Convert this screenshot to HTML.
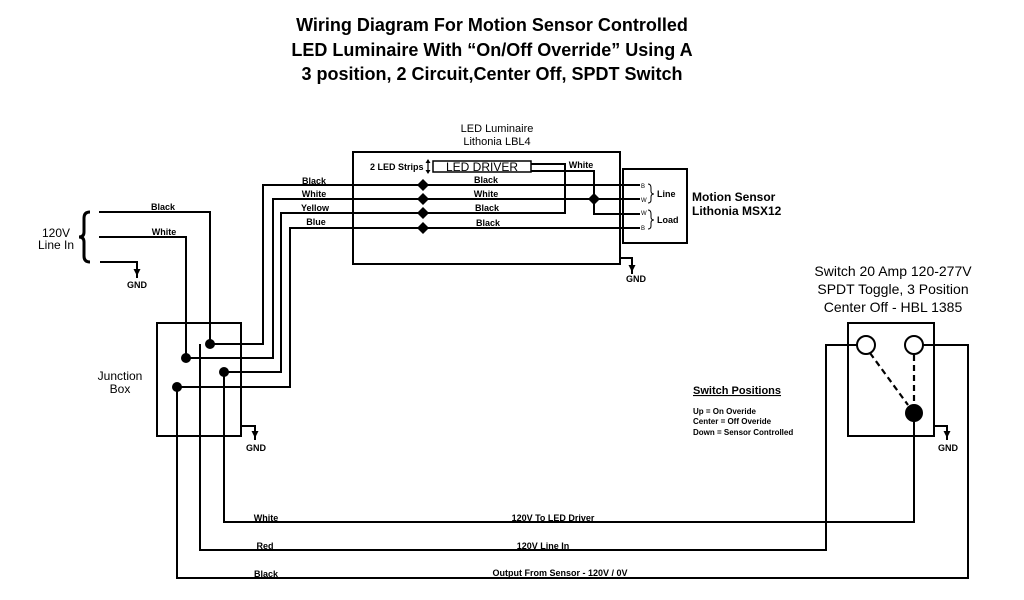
<!DOCTYPE html>
<html><head><meta charset="utf-8"><style>
html,body{margin:0;padding:0;background:#fff;}
svg{display:block;}
text{font-family:"Liberation Sans",Arial,sans-serif;fill:#000;}
.t{font-size:18px;font-weight:bold;}
.s{font-size:9px;font-weight:bold;}
.m{font-size:12px;}
</style></head><body>
<svg width="1024" height="600" viewBox="0 0 1024 600" xmlns="http://www.w3.org/2000/svg">
<defs>
<g id="gnd"><line x1="0" y1="0" x2="0" y2="5" stroke="#000" stroke-width="2"/><polygon points="-3.5,5 3.5,5 0,12" fill="#000"/><line x1="0" y1="9" x2="0" y2="14" stroke="#000" stroke-width="2"/></g>
</defs>
<text class="t" x="492" y="31" text-anchor="middle">Wiring Diagram For Motion Sensor Controlled</text>
<text class="t" x="492" y="56" text-anchor="middle">LED Luminaire With “On/Off Override” Using A</text>
<text class="t" x="492" y="80" text-anchor="middle">3 position, 2 Circuit,Center Off, SPDT Switch</text>

<g fill="none" stroke="#000" stroke-width="2">
<rect x="353" y="152" width="267" height="112"/>
<rect x="433" y="161" width="98" height="11" stroke-width="1.5"/>
<rect x="623" y="169" width="64" height="74"/>
<rect x="157" y="323" width="84" height="113"/>
<rect x="848" y="323" width="86" height="113"/>
<polyline points="99,212 210,212 210,344"/>
<polyline points="99,237 186,237 186,358"/>
<polyline points="100,262 137,262 137,266"/>
<polyline points="210,344 263,344 263,185 640,185"/>
<polyline points="186,358 273,358 273,199 640,199"/>
<polyline points="224,372 281,372 281,213 565,213 565,164 531,164"/>
<polyline points="177,387 290,387 290,228 640,228"/>
<polyline points="531,171 594,171 594,214 640,214"/>
<polyline points="620,258 632,258 632,262"/>
<polyline points="241,426 255,426 255,428"/>
<polyline points="934,426 947,426 947,428"/>
<polyline points="224,372 224,522 914,522 914,413"/>
<polyline points="200,344 200,550 826,550 826,345 857,345"/>
<polyline points="177,387 177,578 968,578 968,345 923,345"/>
<path d="M90,212 Q84,212 84,218 L84,232 Q84,237 79,237 Q84,237 84,242 L84,256 Q84,262 90,262" stroke-width="3"/>
<path d="M648,184 Q651,184 651,188 L651,191 Q651,194 654,194 Q651,194 651,197 L651,200 Q651,203 648,203" stroke-width="1"/>
<path d="M648,210 Q651,210 651,214 L651,217 Q651,220 654,220 Q651,220 651,223 L651,226 Q651,229 648,229" stroke-width="1"/>
<circle cx="866" cy="345" r="9" fill="#fff"/>
<circle cx="914" cy="345" r="9" fill="#fff"/>
<line x1="870" y1="353" x2="908" y2="405" stroke-dasharray="6,4" stroke-width="2.2"/>
<line x1="914" y1="355" x2="914" y2="404" stroke-dasharray="6,4" stroke-width="2.2"/>
<line x1="428" y1="160" x2="428" y2="173" stroke-width="1.2"/>
</g>
<polygon points="425.5,163 430.5,163 428,159" fill="#000"/>
<polygon points="425.5,170 430.5,170 428,174" fill="#000"/>
<circle cx="914" cy="413" r="9" fill="#000"/>

<g fill="#000">
<polygon points="423,179 429,185 423,191 417,185"/>
<polygon points="423,193 429,199 423,205 417,199"/>
<polygon points="423,207 429,213 423,219 417,213"/>
<polygon points="423,222 429,228 423,234 417,228"/>
<polygon points="594,193 600,199 594,205 588,199"/>
<circle cx="210" cy="344" r="5"/>
<circle cx="186" cy="358" r="5"/>
<circle cx="224" cy="372" r="5"/>
<circle cx="177" cy="387" r="5"/>
</g>
<use href="#gnd" x="137" y="264"/>
<use href="#gnd" x="632" y="260"/>
<use href="#gnd" x="255" y="426"/>
<use href="#gnd" x="947" y="426"/>

<text class="s" x="137" y="288" text-anchor="middle">GND</text>
<text class="s" x="636" y="282" text-anchor="middle">GND</text>
<text class="s" x="256" y="451" text-anchor="middle">GND</text>
<text class="s" x="948" y="451" text-anchor="middle">GND</text>

<text class="m" x="56" y="237" text-anchor="middle">120V</text>
<text class="m" x="56" y="249" text-anchor="middle">Line In</text>
<text class="s" x="163" y="210" text-anchor="middle">Black</text>
<text class="s" x="164" y="235" text-anchor="middle">White</text>
<text class="s" x="314" y="184" text-anchor="middle">Black</text>
<text class="s" x="314" y="197" text-anchor="middle">White</text>
<text class="s" x="315" y="211" text-anchor="middle">Yellow</text>
<text class="s" x="316" y="225" text-anchor="middle">Blue</text>

<text x="497" y="132" text-anchor="middle" style="font-size:11px">LED Luminaire</text>
<text x="497" y="145" text-anchor="middle" style="font-size:11px">Lithonia LBL4</text>
<text class="s" x="370" y="170">2 LED Strips</text>
<text x="482" y="171" text-anchor="middle" style="font-size:12px">LED DRIVER</text>
<text class="s" x="581" y="168" text-anchor="middle">White</text>
<text class="s" x="486" y="183" text-anchor="middle">Black</text>
<text class="s" x="486" y="197" text-anchor="middle">White</text>
<text class="s" x="487" y="211" text-anchor="middle">Black</text>
<text class="s" x="488" y="226" text-anchor="middle">Black</text>
<text x="641" y="188" style="font-size:6px">B</text>
<text x="641" y="202" style="font-size:6px">W</text>
<text x="641" y="215" style="font-size:6px">W</text>
<text x="641" y="230" style="font-size:6px">B</text>
<text class="s" x="657" y="197">Line</text>
<text class="s" x="657" y="223">Load</text>
<text x="692" y="201" style="font-size:12px;font-weight:bold">Motion Sensor</text>
<text x="692" y="215" style="font-size:12px;font-weight:bold">Lithonia MSX12</text>

<text class="m" x="120" y="380" text-anchor="middle">Junction</text>
<text class="m" x="120" y="393" text-anchor="middle">Box</text>

<text x="893" y="276" text-anchor="middle" style="font-size:14px">Switch 20 Amp 120-277V</text>
<text x="893" y="294" text-anchor="middle" style="font-size:14px">SPDT Toggle, 3 Position</text>
<text x="893" y="312" text-anchor="middle" style="font-size:14px">Center Off  -  HBL 1385</text>

<text x="693" y="394" style="font-size:11px;font-weight:bold;text-decoration:underline">Switch Positions</text>
<text x="693" y="414" style="font-size:8px;font-weight:bold">Up = On Overide</text>
<text x="693" y="424" style="font-size:8px;font-weight:bold">Center =  Off Overide</text>
<text x="693" y="435" style="font-size:8px;font-weight:bold">Down = Sensor Controlled</text>

<text class="s" x="266" y="521" text-anchor="middle">White</text>
<text class="s" x="553" y="521" text-anchor="middle">120V To LED Driver</text>
<text class="s" x="265" y="549" text-anchor="middle">Red</text>
<text class="s" x="543" y="549" text-anchor="middle">120V Line In</text>
<text class="s" x="266" y="577" text-anchor="middle">Black</text>
<text class="s" x="560" y="576" text-anchor="middle">Output From Sensor - 120V / 0V</text>
</svg>
</body></html>
